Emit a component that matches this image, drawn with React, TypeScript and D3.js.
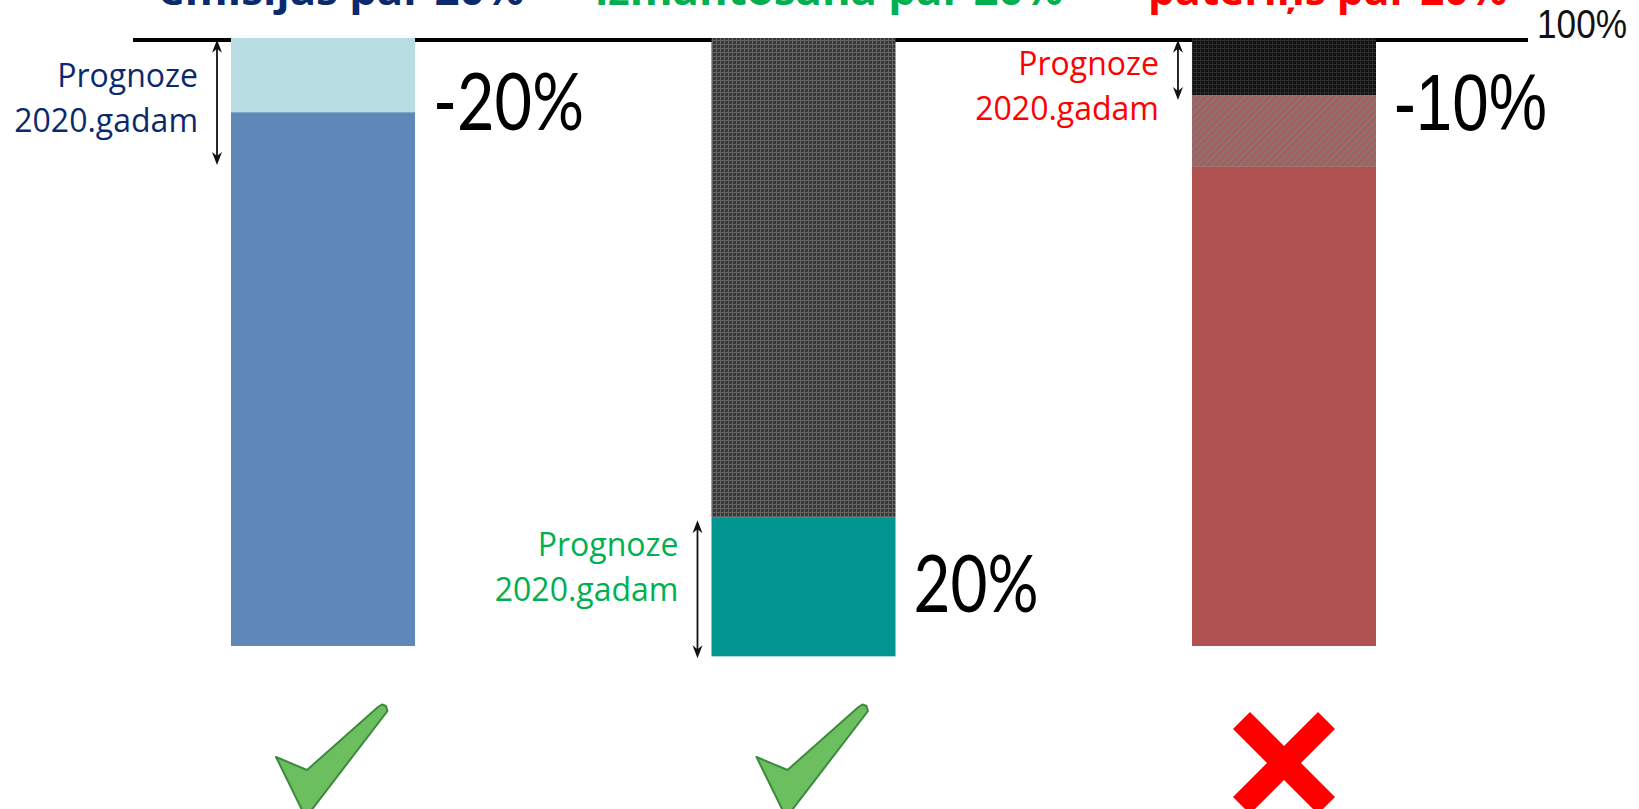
import React from "react";
import * as d3 from "d3";

// ---- data ----
const categories = ["emisijas par 20%", "izmantošana par 20%", "patēriņš par 20%"];
const barBase = [0, -1.7, 0];          // bottom of each bar (percent of reference level)
const mainTop = [87.8, 21.2, 78.8];    // top of the solid lower segment
const forecastTop = [100, 100, 90.6];  // top of the second segment
const barTop = [100, 100, 100];        // reference level (100%)
const arrowFrom = [99.7, 20.7, 99.7];
const arrowTo = [79.1, -2.0, 89.8];
const changeLabels = ["-20%", "20%", "-10%"];
const verdicts = ["ok", "ok", "fail"];
const forecastText = ["Prognoze", "2020.gadam"];
const referenceText = "100%";

// ---- styles ----
const mainFill = ["#5f88b8", "#00968f", "#b0524f"];
const forecastFill = ["#b7dde3", "url(#darkGrid)", "url(#hatch)"];
const topFill = ["#b7dde3", "url(#darkGrid)", "url(#blackGrid)"];
const titleColor = ["#0b2a6e", "#00b050", "#ff0000"];
const labelColor = ["#0b2a6e", "#00b050", "#ff0000"];

const W = 1639;
const H = 809;

export default function App() {
  const x = d3
    .scaleBand<string>()
    .domain(categories)
    .range([231, 1376])
    .paddingInner(0.617)
    .paddingOuter(0);
  const y = d3.scaleLinear().domain([0, 100]).range([646, 38]);
  const bw = x.bandwidth();

  const lineY = y(100) + 2;

  // title layout
  const titleX = [159, 595, 1148];
  const titleLen = [365, 468, 359];
  // forecast label first baseline per bar
  const labelBase = [87, 556, 75];
  // change label baseline
  const changeBase = [130, 612, 130];
  const changeLen = [151, 125, 153];
  const changeFont = ["Lato", "Lato", "Liberation Sans"];

  const checkPts: [number, number][] = [
    [-47, 757], [-16, 770], [55, 707], [59, 704.5], [63, 706], [64.5, 711],
    [-13, 812], [-20, 812], [-44, 763],
  ];
  const poly = d3.line().curve(d3.curveLinearClosed);

  const arrowHead = (ax: number, ay: number, dir: number) =>
    `M${ax},${ay} L${ax - 5},${ay + dir * 13} L${ax},${ay + dir * 9} L${ax + 5},${ay + dir * 13} Z`;

  return (
    <svg
      width={W}
      height={H}
      viewBox={`0 0 ${W} ${H}`}
      style={{ position: "absolute", left: 0, top: 0, background: "#fff" }}
    >
      <defs>
        <pattern id="darkGrid" width={4} height={4} patternUnits="userSpaceOnUse">
          <rect width={4} height={4} fill="#383838" />
          <path d="M0 0.5H4M0.5 0V4" stroke="#646464" strokeWidth={1} />
        </pattern>
        <pattern id="blackGrid" width={4} height={4} patternUnits="userSpaceOnUse">
          <rect width={4} height={4} fill="#121212" />
          <path d="M0 0.5H4M0.5 0V4" stroke="#2c2c2c" strokeWidth={1} />
        </pattern>
        <pattern id="hatch" width={5} height={5} patternUnits="userSpaceOnUse" patternTransform="rotate(45)">
          <rect width={5} height={5} fill="#8c7171" />
          <rect width={2.5} height={5} fill="#a85d5d" />
        </pattern>
      </defs>

      {/* titles (top cut off, as in the reference) */}
      {categories.map((c, i) => (
        <text
          key={"t" + i}
          x={titleX[i]}
          y={5}
          fill={titleColor[i]}
          fontFamily="'Open Sans', sans-serif"
          fontWeight={700}
          fontSize={42}
          textLength={titleLen[i]}
          lengthAdjust="spacingAndGlyphs"
        >
          {c}
        </text>
      ))}

      {/* reference line */}
      <line x1={133} x2={1528} y1={lineY} y2={lineY} stroke="#000" strokeWidth={4} />
      <text
        x={1537}
        y={38}
        fontFamily="'Liberation Sans', Arial, sans-serif"
        fontSize={41}
        fill="#111"
        textLength={90}
        lengthAdjust="spacingAndGlyphs"
      >
        {referenceText}
      </text>

      {/* bars */}
      {categories.map((c, i) => {
        const bx = x(c)!;
        return (
          <g key={"b" + i}>
            <rect x={bx} y={y(mainTop[i])} width={bw} height={y(barBase[i]) - y(mainTop[i])} fill={mainFill[i]} />
            <rect
              x={bx}
              y={y(forecastTop[i])}
              width={bw}
              height={y(mainTop[i]) - y(forecastTop[i])}
              fill={forecastFill[i]}
            />
            {barTop[i] > forecastTop[i] && (
              <rect
                x={bx}
                y={y(barTop[i])}
                width={bw}
                height={y(forecastTop[i]) - y(barTop[i])}
                fill={topFill[i]}
              />
            )}
          </g>
        );
      })}

      {/* arrows + forecast labels */}
      {categories.map((c, i) => {
        const ax = x(c)! - 14;
        const y1 = y(arrowFrom[i]);
        const y2 = y(arrowTo[i]);
        const lx = x(c)! - 33;
        return (
          <g key={"a" + i}>
            <line x1={ax} x2={ax} y1={y1 + 6} y2={y2 - 6} stroke="#111" strokeWidth={1.8} />
            <path d={arrowHead(ax, y1, 1)} fill="#111" />
            <path d={arrowHead(ax, y2, -1)} fill="#111" />
            {forecastText.map((t, k) => (
              <text
                key={k}
                x={lx}
                y={labelBase[i] + k * 45}
                textAnchor="end"
                fill={labelColor[i]}
                fontFamily="'Open Sans', sans-serif"
                fontSize={32}
              >
                {t}
              </text>
            ))}
          </g>
        );
      })}

      {/* change labels */}
      {categories.map((c, i) => (
        <text
          key={"c" + i}
          x={x(c)! + bw + 18}
          y={changeBase[i]}
          fontFamily={`'${changeFont[i]}', sans-serif`}
          fontWeight={400}
          fontSize={80}
          fill="#000"
          textLength={changeLen[i]}
          lengthAdjust="spacingAndGlyphs"
        >
          {changeLabels[i]}
        </text>
      ))}

      {/* verdict marks */}
      {categories.map((c, i) => {
        const cx = x(c)! + bw / 2;
        if (verdicts[i] === "ok") {
          const pts = checkPts.map(([dx, py]) => [cx + dx, py] as [number, number]);
          return (
            <path
              key={"v" + i}
              d={poly(pts) || ""}
              fill="#6cbf5e"
              stroke="#3d8a3d"
              strokeWidth={2}
              strokeLinejoin="round"
            />
          );
        }
        const cy = 763;
        const d = 42.5;
        return (
          <g key={"v" + i} stroke="#ff0000" strokeWidth={24} strokeLinecap="butt">
            <line x1={cx - d} y1={cy - d} x2={cx + d} y2={cy + d} />
            <line x1={cx + d} y1={cy - d} x2={cx - d} y2={cy + d} />
          </g>
        );
      })}
    </svg>
  );
}
